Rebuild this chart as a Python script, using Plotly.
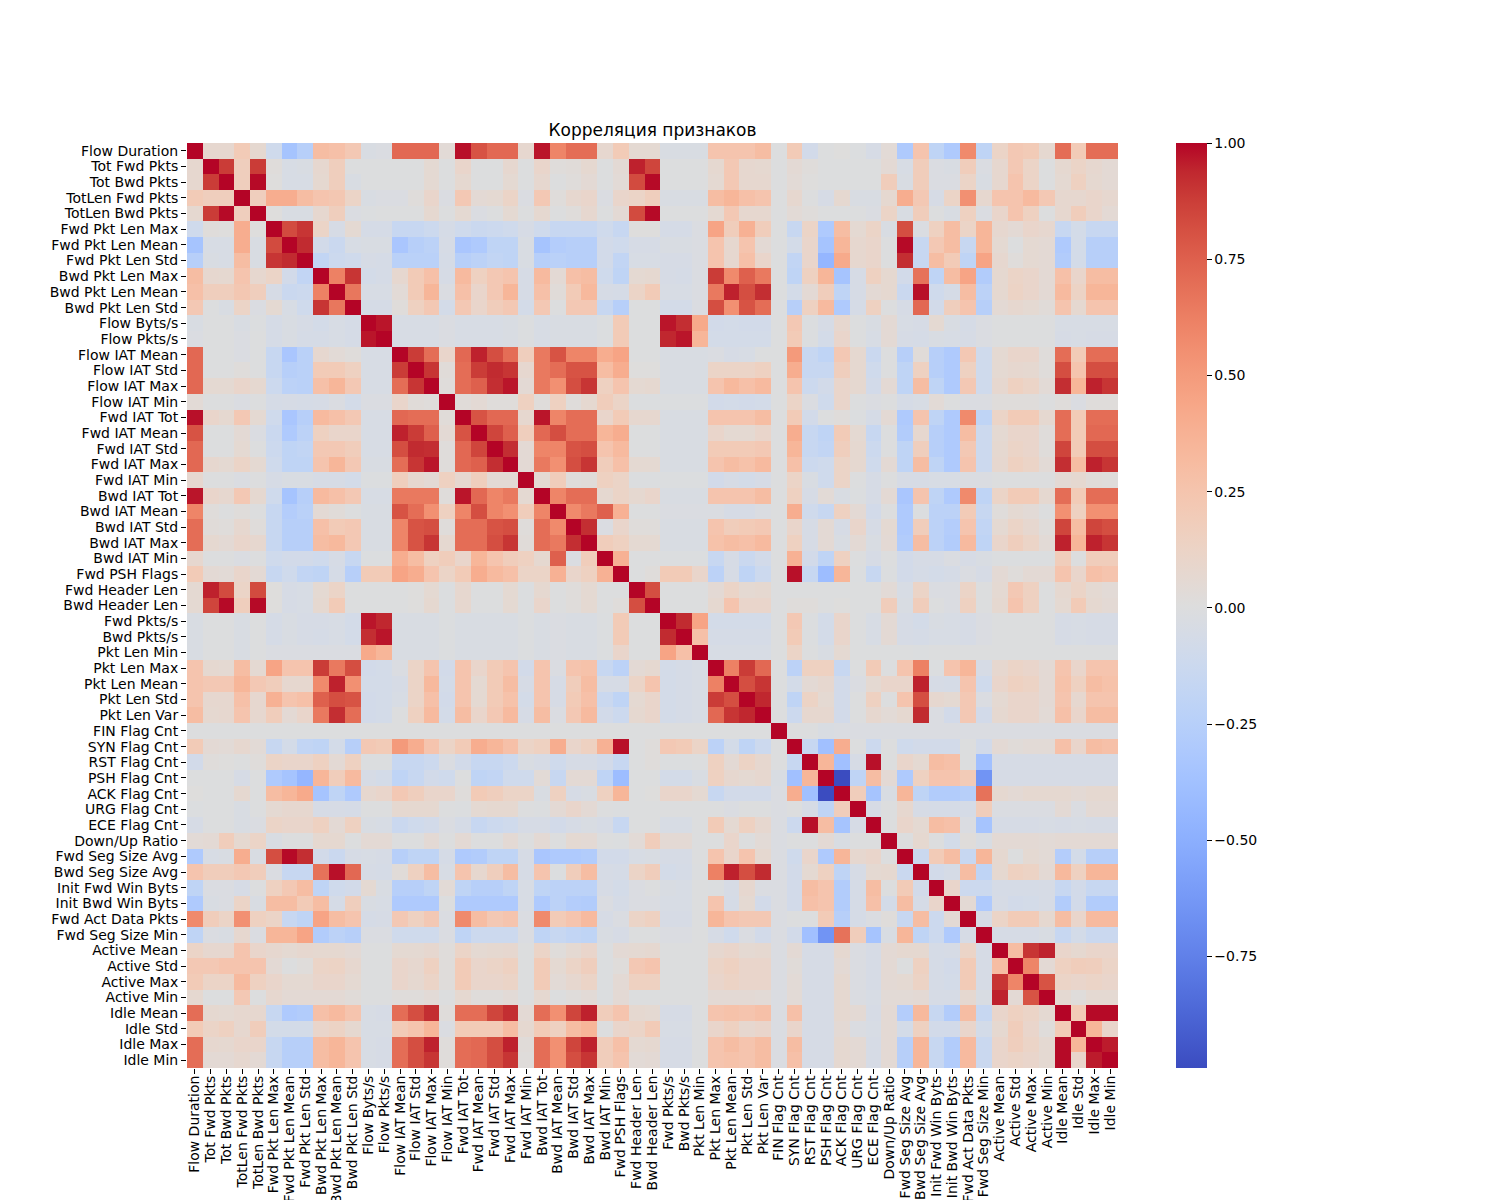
import numpy as np
import plotly.graph_objects as go

features = [
    "Flow Duration", "Tot Fwd Pkts", "Tot Bwd Pkts", "TotLen Fwd Pkts", "TotLen Bwd Pkts",
    "Fwd Pkt Len Max", "Fwd Pkt Len Mean", "Fwd Pkt Len Std", "Bwd Pkt Len Max", "Bwd Pkt Len Mean",
    "Bwd Pkt Len Std", "Flow Byts/s", "Flow Pkts/s", "Flow IAT Mean", "Flow IAT Std",
    "Flow IAT Max", "Flow IAT Min", "Fwd IAT Tot", "Fwd IAT Mean", "Fwd IAT Std",
    "Fwd IAT Max", "Fwd IAT Min", "Bwd IAT Tot", "Bwd IAT Mean", "Bwd IAT Std",
    "Bwd IAT Max", "Bwd IAT Min", "Fwd PSH Flags", "Fwd Header Len", "Bwd Header Len",
    "Fwd Pkts/s", "Bwd Pkts/s", "Pkt Len Min", "Pkt Len Max", "Pkt Len Mean",
    "Pkt Len Std", "Pkt Len Var", "FIN Flag Cnt", "SYN Flag Cnt", "RST Flag Cnt",
    "PSH Flag Cnt", "ACK Flag Cnt", "URG Flag Cnt", "ECE Flag Cnt", "Down/Up Ratio",
    "Fwd Seg Size Avg", "Bwd Seg Size Avg", "Init Fwd Win Byts", "Init Bwd Win Byts", "Fwd Act Data Pkts",
    "Fwd Seg Size Min", "Active Mean", "Active Std", "Active Max", "Active Min",
    "Idle Mean", "Idle Std", "Idle Max", "Idle Min",
]

# upper triangle of the correlation matrix, row i holds columns i..58
corr_upper = [
    [1, 0.08, 0.08, 0.2, 0.07, -0.1, -0.35, -0.25, 0.3, 0.28, 0.22, -0.03, -0.02, 0.72, 0.72, 0.72, 0.04, 0.98, 0.8, 0.72,
     0.72, 0.08, 0.97, 0.6, 0.7, 0.7, 0.08, 0.2, 0.06, 0.06, -0.03, -0.03, -0.03, 0.25, 0.25, 0.25, 0.3, 0, 0.2, -0.08,
     0, 0.01, -0.01, -0.05, 0.04, -0.3, 0.25, -0.2, -0.3, 0.58, -0.2, 0.12, 0.22, 0.2, 0.07, 0.7, 0.2, 0.7, 0.7],
    [1, 0.88, 0.17, 0.88, 0.02, -0.04, -0.03, 0.08, 0.17, 0, 0, 0, 0, 0, 0.06, 0, 0.1, 0, 0,
     0.08, 0, 0.1, 0.02, 0.03, 0.07, 0, 0.05, 0.95, 0.85, 0, 0, 0, 0.07, 0.22, 0.08, 0.07, 0, 0.05, 0.02,
     0, 0, 0, 0, 0.05, -0.04, 0.18, -0.02, -0.03, 0.18, -0.02, 0.08, 0.22, 0.12, 0, 0.07, 0.12, 0.08, 0.05],
    [1, 0.17, 0.99, 0.01, -0.04, -0.04, 0.07, 0.17, -0.03, 0, 0, 0, 0, 0.06, 0, 0.07, 0, 0,
     0.06, 0, 0.08, 0, 0.02, 0.05, 0, 0.04, 0.83, 0.99, 0, 0, 0, 0.06, 0.22, 0.08, 0.08, 0, 0.04, 0.01,
     0, 0, 0, 0, 0.18, -0.03, 0.18, -0.02, -0.02, 0.12, -0.03, 0.08, 0.25, 0.12, 0, 0.06, 0.15, 0.07, 0.05],
    [1, 0.17, 0.4, 0.4, 0.3, 0.25, 0.23, 0.12, -0.03, -0.02, -0.02, 0.02, 0.1, -0.02, 0.22, 0.05, 0.06,
     0.12, -0.02, 0.22, 0.02, 0.08, 0.1, -0.02, 0.1, 0.12, 0.17, -0.03, -0.03, -0.03, 0.3, 0.35, 0.28, 0.25, 0, 0.08, 0,
     -0.05, 0.07, -0.03, -0.03, 0.07, 0.4, 0.22, -0.05, 0.12, 0.55, 0.08, 0.25, 0.25, 0.32, 0.22, 0.08, 0.08, 0.1, 0.08],
    [1, 0.01, -0.03, -0.03, 0.08, 0.17, -0.02, -0.01, 0, 0, 0, 0.07, 0, 0.06, -0.02, 0,
     0.06, 0, 0.07, 0, 0.02, 0.08, 0, 0.05, 0.83, 0.99, 0, 0, 0, 0.06, 0.22, 0.08, 0.08, 0, 0.04, 0.02,
     0, 0, 0, -0.02, 0.12, -0.03, 0.18, 0, -0.03, 0.15, -0.02, 0.1, 0.25, 0.15, 0, 0.08, 0.18, 0.1, 0.05],
    [1, 0.83, 0.9, 0.12, -0.05, 0.06, -0.06, -0.06, -0.15, -0.15, -0.12, -0.06, -0.1, -0.13, -0.12,
     -0.1, -0.05, -0.1, -0.15, -0.15, -0.15, -0.1, -0.15, 0.01, 0.01, -0.06, -0.06, -0.02, 0.45, 0.18, 0.38, 0.18, 0, -0.15, 0.12,
     -0.3, 0.3, 0.06, 0.12, -0.03, 0.82, -0.02, 0.15, 0.3, 0.12, 0.35, 0.08, 0.05, 0.1, 0.08, -0.15, -0.07, -0.15, -0.15],
    [1, 0.93, -0.08, -0.13, -0.04, -0.03, -0.03, -0.33, -0.25, -0.22, -0.05, -0.33, -0.3, -0.2,
     -0.2, -0.03, -0.35, -0.27, -0.25, -0.25, -0.08, -0.1, -0.05, -0.05, -0.03, -0.03, -0.02, 0.25, 0.08, 0.25, 0.05, 0, -0.07, 0.1,
     -0.35, 0.35, 0.08, 0.1, 0, 0.99, -0.15, 0.22, 0.3, -0.15, 0.35, 0.06, 0, 0.06, 0.05, -0.3, -0.07, -0.25, -0.25],
    [1, -0.18, -0.12, -0.1, -0.05, -0.06, -0.23, -0.23, -0.23, -0.06, -0.25, -0.22, -0.18,
     -0.2, -0.03, -0.25, -0.23, -0.25, -0.25, -0.08, -0.18, -0.04, -0.04, -0.05, -0.05, -0.02, 0.25, 0.08, 0.28, 0.1, 0, -0.18, 0.1,
     -0.45, 0.42, 0.08, 0.1, 0, 0.92, -0.15, 0.3, 0.2, -0.2, 0.45, 0.08, 0.02, 0.06, 0.05, -0.28, -0.07, -0.25, -0.25],
    [1, 0.62, 0.9, -0.07, -0.06, 0.08, 0.2, 0.28, -0.05, 0.32, 0.15, 0.22,
     0.25, -0.05, 0.32, 0.05, 0.28, 0.3, -0.1, -0.2, 0.06, 0.07, -0.05, -0.06, -0.02, 0.88, 0.58, 0.75, 0.65, 0, -0.2, 0.15,
     0.35, -0.35, -0.05, 0.15, 0.07, -0.08, 0.68, -0.2, 0.3, 0.45, -0.28, 0.07, 0.12, 0.1, 0.05, 0.28, 0.1, 0.3, 0.3],
    [1, 0.66, -0.04, -0.04, 0.04, 0.2, 0.35, -0.02, 0.28, 0.1, 0.22,
     0.35, -0.05, 0.28, 0.03, 0.2, 0.33, -0.05, -0.06, 0.12, 0.2, -0.04, -0.04, -0.02, 0.65, 0.95, 0.82, 0.92, 0, -0.07, 0.05,
     0.18, -0.2, -0.05, 0.05, 0.07, -0.13, 0.98, -0.1, -0.06, 0.3, -0.22, 0.07, 0.13, 0.1, 0.05, 0.32, 0.13, 0.35, 0.35],
    [1, -0.06, -0.06, 0.02, 0.15, 0.22, -0.07, 0.22, 0.1, 0.18,
     0.22, -0.07, 0.22, 0, 0.22, 0.22, -0.15, -0.25, 0, 0, -0.07, -0.07, -0.02, 0.82, 0.55, 0.8, 0.7, 0, -0.25, 0.15,
     0.32, -0.3, -0.06, 0.15, 0, -0.05, 0.72, -0.08, 0.17, 0.25, -0.25, 0.05, 0.08, 0.06, 0.03, 0.25, 0.07, 0.25, 0.25],
    [1, 0.97, -0.04, -0.04, -0.04, -0.02, -0.04, -0.04, -0.04,
     -0.03, -0.01, -0.04, -0.03, -0.03, -0.03, -0.01, 0.2, 0, 0, 0.97, 0.92, 0.42, -0.08, -0.07, -0.08, -0.08, 0, 0.22, -0.01,
     -0.05, 0.08, 0, -0.03, 0.05, -0.04, -0.05, 0.06, -0.03, -0.06, -0.02, 0, 0, 0, 0, -0.04, -0.04, -0.04, -0.04],
    [1, -0.04, -0.04, -0.04, -0.02, -0.04, -0.04, -0.04,
     -0.03, -0.01, -0.04, -0.03, -0.03, -0.03, -0.01, 0.2, 0, 0, 0.94, 0.97, 0.35, -0.07, -0.07, -0.07, -0.07, 0, 0.2, -0.01,
     -0.07, 0.1, 0, -0.04, 0.05, -0.05, -0.06, -0.03, -0.04, -0.05, -0.02, 0, 0, 0, 0, -0.05, -0.04, -0.05, -0.05],
    [1, 0.88, 0.7, 0.1, 0.72, 0.95, 0.82,
     0.7, 0.17, 0.65, 0.8, 0.6, 0.6, 0.4, 0.45, 0, 0, -0.03, -0.03, -0.03, -0.02, -0.05, -0.04, 0, 0, 0.5, -0.15,
     -0.2, 0.22, 0.07, -0.13, 0, -0.25, 0.03, -0.25, -0.3, 0.22, -0.1, 0.06, 0.1, 0.1, 0.02, 0.7, 0.2, 0.7, 0.7],
    [1, 0.9, 0.03, 0.7, 0.88, 0.93,
     0.9, 0.08, 0.65, 0.7, 0.8, 0.8, 0.3, 0.4, 0.01, 0.01, -0.03, -0.03, -0.03, 0.12, 0.12, 0.12, 0.15, 0, 0.4, -0.15,
     -0.15, 0.17, 0.07, -0.1, 0, -0.2, 0.15, -0.25, -0.3, 0.15, -0.1, 0.06, 0.08, 0.07, 0.02, 0.82, 0.25, 0.82, 0.82],
    [1, 0.02, 0.7, 0.75, 0.92,
     0.97, 0.05, 0.65, 0.55, 0.82, 0.9, 0.15, 0.25, 0.06, 0.07, -0.03, -0.03, -0.03, 0.25, 0.33, 0.28, 0.32, 0, 0.25, -0.12,
     -0.08, 0.1, 0.07, -0.08, 0.05, -0.2, 0.3, -0.2, -0.3, 0.22, -0.1, 0.08, 0.15, 0.12, 0.04, 0.92, 0.35, 0.95, 0.9],
    [1, 0.03, 0.05, 0.02,
     0.02, 0.15, 0.02, 0.15, 0.02, 0.07, 0.18, 0.12, -0.01, -0.01, -0.01, -0.01, -0.01, -0.08, -0.07, -0.08, -0.07, 0, 0.12, -0.02,
     -0.1, 0.1, 0, -0.02, 0, -0.06, -0.04, 0.04, 0, -0.02, -0.02, 0.02, 0.02, 0.02, 0, 0.02, -0.02, 0.02, 0.02],
    [1, 0.8, 0.72,
     0.72, 0.08, 0.97, 0.6, 0.7, 0.7, 0.1, 0.2, 0.08, 0.08, -0.03, -0.03, -0.03, 0.25, 0.25, 0.25, 0.3, 0, 0.2, -0.08,
     0, 0.02, -0.01, -0.06, 0.05, -0.3, 0.25, -0.2, -0.3, 0.58, -0.2, 0.12, 0.2, 0.2, 0.07, 0.7, 0.2, 0.7, 0.7],
    [1, 0.85,
     0.75, 0.17, 0.72, 0.82, 0.7, 0.7, 0.35, 0.4, 0, 0, -0.03, -0.03, -0.03, 0.1, 0.06, 0.06, 0.1, 0, 0.4, -0.15,
     -0.2, 0.2, 0.06, -0.15, 0, -0.28, 0.08, -0.25, -0.3, 0.3, -0.12, 0.06, 0.1, 0.1, 0.02, 0.7, 0.2, 0.72, 0.72],
    [1,
     0.92, 0.05, 0.6, 0.6, 0.8, 0.82, 0.25, 0.32, 0, 0, -0.03, -0.03, -0.03, 0.2, 0.2, 0.2, 0.22, 0, 0.35, -0.15,
     -0.18, 0.17, 0.07, -0.12, 0, -0.2, 0.17, -0.25, -0.3, 0.22, -0.12, 0.07, 0.12, 0.1, 0.02, 0.85, 0.2, 0.82, 0.82],
    [1, 0.05, 0.65, 0.55, 0.82, 0.9, 0.18, 0.28, 0.06, 0.06, -0.03, -0.03, -0.03, 0.25, 0.3, 0.27, 0.32, 0, 0.28, -0.12,
     -0.1, 0.12, 0.07, -0.1, 0.05, -0.2, 0.3, -0.2, -0.3, 0.25, -0.12, 0.08, 0.15, 0.12, 0.04, 0.92, 0.3, 0.95, 0.9],
    [1, 0.06, 0.18, 0.02, 0.03, 0.15, 0.12, -0.01, -0.01, -0.01, -0.01, -0.01, -0.08, -0.05, -0.07, -0.05, 0, 0.12, -0.03,
     -0.1, 0.12, 0, -0.05, 0, -0.05, -0.05, -0.04, -0.04, -0.02, -0.02, 0, 0, 0, 0, 0.05, 0.07, 0.03, 0.02],
    [1, 0.6, 0.7, 0.7, 0.07, 0.12, 0.07, 0.1, -0.03, -0.03, -0.03, 0.25, 0.25, 0.25, 0.3, 0, 0.15, -0.05,
     0.04, -0.03, -0.01, -0.05, 0.05, -0.33, 0.25, -0.2, -0.3, 0.58, -0.2, 0.12, 0.2, 0.2, 0.07, 0.7, 0.2, 0.7, 0.7],
    [1, 0.58, 0.65, 0.75, 0.38, 0, 0, -0.02, -0.02, -0.02, -0.02, -0.05, -0.05, -0.02, 0, 0.4, -0.1,
     -0.15, 0.15, 0.05, -0.08, 0, -0.3, -0.01, -0.22, -0.22, 0.2, -0.15, 0.02, 0.06, 0.04, 0, 0.55, 0.15, 0.55, 0.55],
    [1, 0.92, -0.02, 0.1, 0.02, 0.02, -0.03, -0.03, -0.03, 0.25, 0.18, 0.2, 0.22, 0, 0.1, -0.05,
     0.05, -0.05, 0.1, -0.05, 0.06, -0.3, 0.18, -0.22, -0.27, 0.25, -0.18, 0.06, 0.12, 0.08, 0.02, 0.85, 0.3, 0.85, 0.82],
    [1, 0.18, 0.15, 0.06, 0.06, -0.03, -0.03, -0.03, 0.27, 0.3, 0.28, 0.32, 0, 0.15, -0.05,
     0.05, -0.03, 0.05, -0.03, 0.05, -0.28, 0.3, -0.22, -0.28, 0.32, -0.2, 0.1, 0.17, 0.12, 0.04, 0.95, 0.35, 0.95, 0.9],
    [1, 0.38, 0, 0, -0.01, -0.01, -0.01, -0.15, -0.05, -0.13, -0.08, 0, 0.38, -0.08,
     -0.2, 0.15, 0, -0.05, 0, -0.08, -0.05, -0.05, -0.02, -0.05, -0.03, -0.01, -0.01, -0.01, -0.01, 0.18, 0, 0.18, 0.18],
    [1, 0, 0.02, 0.2, 0.2, 0.1, -0.22, -0.05, -0.2, -0.12, 0, 0.98, -0.15,
     -0.4, 0.35, -0.01, -0.15, -0.01, -0.08, -0.06, -0.07, -0.06, -0.02, -0.05, 0.05, 0.02, 0.05, 0.05, 0.25, 0.1, 0.28, 0.25],
    [1, 0.82, 0, 0, 0, 0.05, 0.12, 0.06, 0.07, 0, 0, 0,
     0, 0, 0, 0, 0.04, -0.04, 0.12, -0.02, -0.02, 0.12, 0, 0.06, 0.22, 0.15, 0, 0.07, 0.12, 0.06, 0.04],
    [1, 0, 0, 0, 0.07, 0.25, 0.1, 0.1, 0, 0.02, 0.02,
     0, 0.01, 0, 0, 0.18, -0.03, 0.18, 0, -0.02, 0.15, 0, 0.07, 0.25, 0.15, 0, 0.06, 0.2, 0.07, 0.05],
    [1, 0.93, 0.45, -0.07, -0.07, -0.07, -0.07, 0, 0.22, -0.01,
     -0.07, 0.1, 0, -0.04, 0.05, -0.05, -0.07, -0.03, -0.04, -0.05, -0.02, 0, 0, 0, 0, -0.05, -0.04, -0.05, -0.05],
    [1, 0.28, -0.06, -0.06, -0.06, -0.06, 0, 0.2, -0.01,
     -0.07, 0.1, 0, -0.04, 0.05, -0.05, -0.06, -0.04, -0.04, -0.05, -0.02, 0, 0, 0, 0, -0.05, -0.04, -0.05, -0.05],
    [1, -0.04, -0.04, -0.04, -0.04, 0, 0.12, 0,
     -0.03, 0.06, 0, 0, 0, 0, -0.01, 0, 0, 0, 0, 0, 0, 0, 0, 0, 0, 0, 0],
    [1, 0.62, 0.88, 0.72, 0, -0.22, 0.15,
     0.15, -0.15, 0, 0.2, 0, 0.25, 0.62, -0.01, 0.25, 0.35, -0.05, 0.08, 0.12, 0.1, 0.05, 0.25, 0.1, 0.25, 0.25],
    [1, 0.82, 0.9, 0, -0.07, 0.05,
     0.08, -0.08, -0.02, 0.06, 0.1, 0.1, 0.95, -0.05, -0.06, 0.25, -0.1, 0.1, 0.15, 0.13, 0.05, 0.27, 0.15, 0.3, 0.27],
    [1, 0.94, 0, -0.2, 0.13,
     0.06, -0.08, 0, 0.15, 0, 0.25, 0.82, 0.08, 0.06, 0.22, -0.02, 0.06, 0.1, 0.1, 0.05, 0.25, 0.08, 0.25, 0.25],
    [1, 0, -0.12, 0.08,
     0.08, -0.08, 0, 0.08, 0.04, 0.07, 0.93, -0.02, -0.08, 0.22, -0.08, 0.07, 0.1, 0.1, 0.04, 0.28, 0.1, 0.3, 0.3],
    [1, 0, 0,
     -0.03, -0.02, -0.02, -0.02, -0.02, -0.02, -0.02, -0.02, -0.02, -0.02, -0.02, -0.02, -0.02, -0.02, -0.02, -0.02, -0.02, -0.02, -0.02],
    [1, -0.15,
     -0.38, 0.4, 0, -0.12, 0, -0.1, -0.08, -0.08, -0.08, 0, -0.08, 0.05, 0.03, 0.04, 0.04, 0.28, 0.1, 0.3, 0.28],
    [1,
     0.35, -0.38, -0.05, 0.98, 0, 0.1, 0.06, 0.3, 0.28, 0, -0.38, -0.05, -0.05, -0.05, -0.05, -0.05, -0.05, -0.05, -0.05],
    [1, -0.99, -0.2, 0.3, 0.05, -0.3, 0.15, 0.25, 0.25, 0.2, -0.65, -0.05, -0.05, -0.05, -0.05, -0.05, -0.05, -0.05, -0.05],
    [1, 0.18, -0.35, -0.03, 0.35, -0.2, -0.28, -0.28, -0.25, 0.68, 0.07, 0.05, 0.07, 0.07, 0.07, 0.05, 0.07, 0.07],
    [1, -0.05, 0, 0.08, -0.05, -0.06, -0.06, -0.06, 0.18, -0.02, -0.02, -0.02, -0.02, 0.05, -0.02, 0.05, 0.05],
    [1, 0, 0.1, 0.06, 0.3, 0.28, -0.02, -0.35, -0.05, -0.05, -0.05, -0.04, -0.05, -0.04, -0.05, -0.05],
    [1, 0, 0.07, 0, -0.07, 0.02, -0.03, 0.05, 0.05, 0.05, 0.04, 0.05, 0.05, 0.05, 0.05],
    [1, -0.13, 0.2, 0.3, -0.15, 0.35, 0.07, 0, 0.06, 0.04, -0.27, -0.07, -0.25, -0.25],
    [1, -0.08, -0.06, 0.3, -0.2, 0.07, 0.15, 0.13, 0.05, 0.33, 0.15, 0.35, 0.35],
    [1, 0.1, -0.12, -0.12, -0.06, -0.06, -0.06, -0.05, -0.15, -0.08, -0.15, -0.15],
    [1, 0.05, -0.3, -0.05, -0.08, -0.07, -0.05, -0.28, -0.08, -0.28, -0.28],
    [1, -0.05, 0.12, 0.2, 0.2, 0.07, 0.3, 0.1, 0.32, 0.32],
    [1, -0.05, -0.05, -0.05, -0.03, -0.15, -0.07, -0.13, -0.13],
    [1, 0.3, 0.9, 0.95, 0.1, 0.07, 0.1, 0.1],
    [1, 0.6, 0.05, 0.15, 0.18, 0.17, 0.12],
    [1, 0.8, 0.12, 0.1, 0.12, 0.1],
    [1, 0.06, 0.02, 0.06, 0.06],
    [1, 0.2, 0.99, 0.99],
    [1, 0.35, 0.1],
    [1, 0.96],
    [1],
]

cbar_ticks = [-0.75, -0.5, -0.25, 0.0, 0.25, 0.5, 0.75, 1.0]

# matplotlib "coolwarm" (Moreland diverging map)
coolwarm_rgb = [
    (59, 76, 192), (68, 90, 204), (77, 104, 215), (87, 117, 225), (98, 130, 234),
    (108, 142, 241), (119, 154, 247), (130, 165, 251), (141, 176, 254), (152, 185, 255),
    (163, 194, 255), (174, 201, 253), (184, 208, 249), (194, 213, 244), (204, 217, 238),
    (213, 219, 230), (221, 221, 221), (229, 216, 209), (236, 211, 197), (241, 204, 185),
    (245, 196, 173), (247, 187, 160), (247, 177, 148), (247, 166, 135), (244, 154, 123),
    (241, 141, 111), (236, 127, 99), (229, 112, 88), (222, 96, 77), (213, 80, 66),
    (203, 62, 56), (192, 40, 47), (180, 4, 38),
]


def build_matrix(rows):
    n = len(rows)
    mat = np.zeros((n, n))
    for i, row in enumerate(rows):
        if len(row) != n - i:
            raise ValueError("row {} has {} values, expected {}".format(i, len(row), n - i))
        mat[i, i:] = row
        mat[i:, i] = row
    return mat


corr = build_matrix(corr_upper)
assert len(features) == corr.shape[0]

n_steps = len(coolwarm_rgb) - 1
colorscale = [[k / n_steps, "rgb({},{},{})".format(*c)] for k, c in enumerate(coolwarm_rgb)]

# the page puts the figure 8px in from the top-left corner
left, top, plot_w, plot_h = 179, 135, 931, 925

fig = go.Figure()
fig.add_trace(go.Heatmap(
    z=corr, x=features, y=features,
    colorscale=colorscale, zmin=corr.min(), zmax=1.0,
    colorbar=dict(
        x=(1168 - left) / plot_w, xanchor="left", xref="paper", xpad=0, ypad=0,
        y=0.5, yanchor="middle", len=1.0, lenmode="fraction",
        thickness=31, outlinewidth=0,
        tickvals=cbar_ticks, ticktext=["{:.2f}".format(t).replace("-", "\u2212") for t in cbar_ticks],
        ticks="outside", ticklen=5, tickwidth=1, tickcolor="black",
        tickfont=dict(family="DejaVu Sans", size=14, color="black"),
    ),
    hoverongaps=False,
))

fig.update_layout(
    width=1500, height=1200,
    margin=dict(l=left, r=1500 - left - plot_w, t=top, b=1200 - top - plot_h),
    paper_bgcolor="white", plot_bgcolor="white",
    font=dict(family="DejaVu Sans", size=14, color="black"),
    title=dict(text="Корреляция признаков", x=(left + plot_w / 2) / 1500, xanchor="center",
               y=1 - 128 / 1200, yanchor="bottom", font=dict(size=17, color="black")),
)
fig.update_xaxes(tickmode="linear", dtick=1, tickangle=-90, automargin=False, ticklabelstandoff=-4,
                 ticks="outside", ticklen=5, tickwidth=1, tickcolor="black",
                 showgrid=False, zeroline=False, showline=False, tickfont=dict(size=14))
fig.update_yaxes(tickmode="linear", dtick=1, autorange="reversed", automargin=False,
                 ticks="outside", ticklen=5, tickwidth=1, tickcolor="black",
                 showgrid=False, zeroline=False, showline=False, tickfont=dict(size=14))

fig.write_html("out.html")
